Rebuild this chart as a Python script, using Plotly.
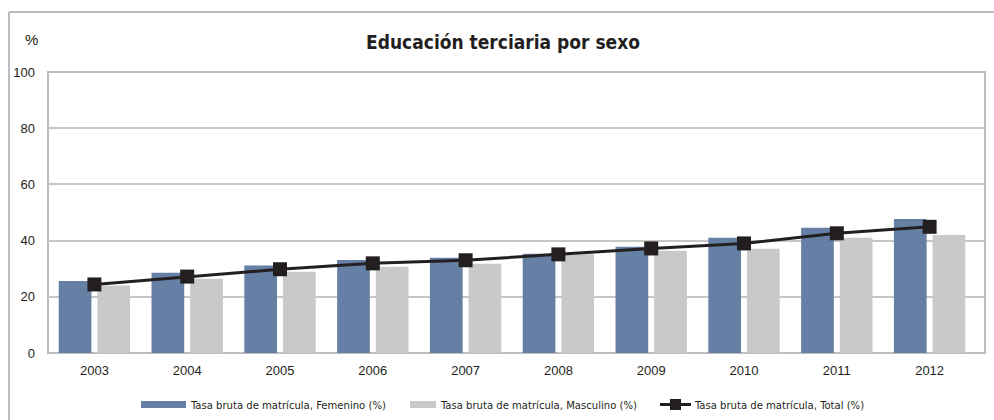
import plotly.graph_objects as go

years = ["2003", "2004", "2005", "2006", "2007", "2008", "2009", "2010", "2011", "2012"]
femenino = [25.6, 28.6, 31.1, 33.1, 33.9, 35.3, 37.8, 41.0, 44.6, 47.7]
masculino = [24.0, 26.4, 28.9, 30.7, 31.8, 35.1, 36.4, 37.1, 41.0, 42.0]
total = [24.4, 27.2, 29.8, 31.9, 33.0, 35.1, 37.2, 39.0, 42.6, 44.9]
y_ticks = [0, 20, 40, 60, 80, 100]

name_f = "Tasa bruta de matrícula, Femenino (%)"
name_m = "Tasa bruta de matrícula, Masculino (%)"
name_t = "Tasa bruta de matrícula, Total (%)"

BLUE = "#6680A5"
GRAY = "#C8C9CB"
BLACK = "#231F20"
GRID = "#C6C6C6"

W, H = 994, 420
L, R, T, B = 48, 985, 72, 353
PW, PH = R - L, B - T
STEP = 92.8  # pixel width of one category slot


def px(x):
    return (x - L) / PW


def py(y):
    return (B - y) / PH


fig = go.Figure()
fig.add_trace(go.Bar(x=years, y=femenino, name=name_f, marker=dict(color=BLUE, line=dict(width=0)), showlegend=False))
fig.add_trace(go.Bar(x=years, y=masculino, name=name_m, marker=dict(color=GRAY, line=dict(width=0)), showlegend=False))
fig.add_trace(go.Scatter(x=years, y=total, name=name_t, mode="lines+markers",
                         line=dict(color=BLACK, width=3),
                         marker=dict(symbol="square", size=14, color=BLACK),
                         showlegend=False))

font_narrow = "DejaVu Sans Condensed, Liberation Sans Narrow, sans-serif"
font_reg = "Liberation Sans, Arial, sans-serif"

shapes = [
    # outer frame (top and left)
    dict(type="line", xref="paper", yref="paper", x0=px(9), x1=px(1010), y0=py(12), y1=py(12),
         line=dict(color="#BDBDBD", width=2)),
    dict(type="line", xref="paper", yref="paper", x0=px(9), x1=px(9), y0=py(12), y1=py(430),
         line=dict(color="#BDBDBD", width=2)),
    # plot border
    dict(type="rect", xref="paper", yref="paper", x0=0, x1=1, y0=0, y1=1,
         line=dict(color="#BDBDBD", width=2), layer="below"),
    # legend swatches
    dict(type="rect", xref="paper", yref="paper", x0=px(141), x1=px(186), y0=py(408), y1=py(401),
         fillcolor=BLUE, line=dict(width=0)),
    dict(type="rect", xref="paper", yref="paper", x0=px(410), x1=px(436), y0=py(408), y1=py(401),
         fillcolor=GRAY, line=dict(width=0)),
    dict(type="line", xref="paper", yref="paper", x0=px(660), x1=px(691), y0=py(404.5), y1=py(404.5),
         line=dict(color=BLACK, width=3)),
    dict(type="rect", xref="paper", yref="paper", x0=px(670), x1=px(681), y0=py(410), y1=py(399),
         fillcolor=BLACK, line=dict(width=0)),
]

annotations = [
    dict(text="Educación terciaria por sexo", xref="paper", yref="paper", x=px(503), y=py(42),
         xanchor="center", yanchor="middle", showarrow=False,
         font=dict(family=font_narrow, size=19, color="#231F20", weight="bold")),
    dict(text="%", xref="paper", yref="paper", x=px(31), y=py(40),
         xanchor="center", yanchor="middle", showarrow=False,
         font=dict(family=font_reg, size=15, color="#231F20")),
    dict(text=name_f, xref="paper", yref="paper", x=px(188), y=py(405),
         xanchor="left", yanchor="middle", showarrow=False,
         font=dict(family=font_narrow, size=11.2, color="#231F20")),
    dict(text=name_m, xref="paper", yref="paper", x=px(438), y=py(405),
         xanchor="left", yanchor="middle", showarrow=False,
         font=dict(family=font_narrow, size=11.2, color="#231F20")),
    dict(text=name_t, xref="paper", yref="paper", x=px(692), y=py(405),
         xanchor="left", yanchor="middle", showarrow=False,
         font=dict(family=font_narrow, size=11.2, color="#231F20")),
]

fig.update_layout(
    width=W, height=H,
    margin=dict(l=L, r=W - R, t=T, b=H - B, pad=0, autoexpand=False),
    paper_bgcolor="white", plot_bgcolor="white",
    barmode="group", bargap=0.167, bargroupgap=0.154,
    shapes=shapes, annotations=annotations,
    showlegend=False,
    font=dict(family=font_reg, color="#231F20"),
)
fig.update_xaxes(type="category", range=[-0.5, -0.5 + PW / STEP], automargin=False,
                 showgrid=False, showline=False, zeroline=False,
                 ticks="", ticklabelstandoff=8,
                 tickfont=dict(family=font_reg, size=13, color="#231F20"))
fig.update_yaxes(range=[0, 100], tickvals=y_ticks, automargin=False,
                 showgrid=True, gridcolor=GRID, gridwidth=2,
                 zeroline=False, showline=False, ticks="", ticklabelstandoff=12,
                 tickfont=dict(family=font_reg, size=13, color="#231F20"))

fig.write_html("out.html", config={"displayModeBar": False},
               post_script="document.body.style.margin='0';")
